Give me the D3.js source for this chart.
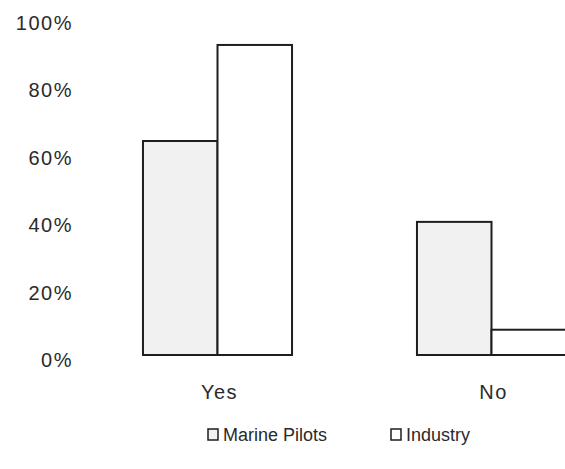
<!DOCTYPE html>
<html><head><meta charset="utf-8">
<script src="https://cdn.jsdelivr.net/npm/d3@7"></script>
<style>body{margin:0;background:#fff}svg{display:block}text{font-family:"Liberation Sans",Arial,sans-serif;fill:#2a2a2a}</style>
</head><body><svg id="c" width="565" height="469"></svg>
<script>
const categories = ["Yes", "No"];
const seriesNames = ["Marine Pilots", "Industry"];
const marinePilots = [0.635, 0.395];
const industry = [0.92, 0.075];
const yTicks = [0, 0.2, 0.4, 0.6, 0.8, 1.0];
const colors = ["#f1f1f1", "#ffffff"];

const svg = d3.select("#c");
const y = d3.scaleLinear().domain([0, 1]).range([355, 18]);
const x = d3.scaleBand().domain(categories).range([80.5, 628.5]).paddingInner(0.456).paddingOuter(0.228);
const xs = d3.scaleBand().domain(seriesNames).range([0, x.bandwidth()]);

const yAxis = d3.axisLeft(y).tickValues(yTicks).tickFormat(d3.format(".0%")).tickSize(0).tickPadding(0);
const gy = svg.append("g").attr("transform", "translate(73,5)").call(yAxis);
gy.select(".domain").remove();
gy.selectAll("text").style("font-size", "20px").style("font-family", "'Liberation Sans',Arial,sans-serif").attr("fill", "#2a2a2a").attr("letter-spacing", "1.5");

const data = categories.map((c, i) => ({ c, vals: [marinePilots[i], industry[i]] }));
const g = svg.append("g");
data.forEach(d => {
  d.vals.forEach((v, j) => {
    g.append("rect")
      .attr("x", x(d.c) + xs(seriesNames[j]))
      .attr("y", y(v))
      .attr("width", xs.bandwidth())
      .attr("height", y(0) - y(v))
      .attr("fill", colors[j])
      .attr("stroke", "#1e1e1e")
      .attr("stroke-width", 2);
  });
});

const xAxis = d3.axisBottom(x).tickSize(0).tickPadding(0);
const gx = svg.append("g").attr("transform", "translate(2,399)").call(xAxis);
gx.select(".domain").remove();
gx.selectAll("text").attr("dy", "0").style("font-size", "20px").style("font-family", "'Liberation Sans',Arial,sans-serif").attr("fill", "#2a2a2a").attr("letter-spacing", "1.5");

const legend = svg.append("g").attr("transform", "translate(0,435)");
const lx = [208, 391];
seriesNames.forEach((s, j) => {
  legend.append("rect").attr("x", lx[j]).attr("y", -6).attr("width", 10).attr("height", 11)
    .attr("fill", colors[j]).attr("stroke", "#1e1e1e").attr("stroke-width", 1.5);
  legend.append("text").attr("x", lx[j] + 15).attr("y", 6).style("font-size", "18px").text(s);
});
</script></body></html>
